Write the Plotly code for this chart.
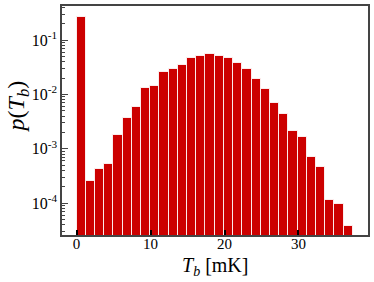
import plotly.graph_objects as go

bin_centers = [0.62, 1.87, 3.11, 4.36, 5.60, 6.85, 8.09, 9.34, 10.58, 11.83,
               13.07, 14.32, 15.56, 16.81, 18.05, 19.30, 20.54, 21.79, 23.03, 24.28,
               25.52, 26.77, 28.01, 29.26, 30.50, 31.75, 32.99, 34.24, 35.48, 36.73]
bin_width = 1.245
prob = [0.261, 2.54e-4, 4.23e-4, 5.37e-4, 1.76e-3, 3.72e-3, 5.77e-3, 0.0131, 0.0142, 0.0258,
        0.0293, 0.0352, 0.046, 0.0508, 0.0552, 0.0515, 0.0473, 0.0383, 0.0293, 0.0189,
        0.0124, 6.9e-3, 4.4e-3, 2.14e-3, 1.66e-3, 7.23e-4, 4.73e-4, 1.17e-4, 9.86e-5, 3.88e-5]
x_ticks = [0, 10, 20, 30]
y_ticks = [1e-4, 1e-3, 1e-2, 1e-1]
y_ticktext = ["10<sup>-4</sup>", "10<sup>-3</sup>", "10<sup>-2</sup>", "10<sup>-1</sup>"]

font = "Liberation Serif, DejaVu Serif, serif"

fig = go.Figure(go.Bar(
    x=bin_centers, y=prob, width=[bin_width] * len(prob),
    marker=dict(color="#cc0000", line=dict(color="rgba(255,255,255,0.85)", width=1)),
))

fig.update_layout(
    width=374, height=282,
    margin=dict(l=62, r=6, t=6, b=47, autoexpand=False),
    plot_bgcolor="white", paper_bgcolor="white",
    showlegend=False,
    font=dict(family=font, size=15, color="black"),
    bargap=0,
    annotations=[
        dict(text="<i>T</i><sub><i>b</i></sub> [mK]", xref="paper", yref="paper",
             x=0.5, y=-0.137, xanchor="center", yanchor="middle", showarrow=False,
             font=dict(size=20)),
        dict(text="<i>p</i>(<i>T</i><sub><i>b</i></sub>)", xref="paper", yref="paper",
             x=-0.145, y=0.56, xanchor="center", yanchor="middle", showarrow=False,
             textangle=-90, font=dict(size=24)),
    ],
)
fig.update_xaxes(
    range=[-1.97, 39.4], tickvals=x_ticks, ticks="inside", ticklen=5, tickwidth=1.5,
    tickcolor="black", showline=True, linecolor="#444", linewidth=1.5, mirror=True,
    showgrid=False, zeroline=False, tickfont=dict(size=15), automargin=False,
    ticklabelstandoff=-6,
)
fig.update_yaxes(
    type="log", range=[-4.583, -0.375], tickvals=y_ticks, ticktext=y_ticktext,
    ticks="inside", ticklen=6, tickwidth=1.2, tickcolor="#444",
    minor=dict(ticks="inside", ticklen=3, tickcolor="#444", dtick="D1", showgrid=False),
    showline=True, linecolor="#444", linewidth=1.5, mirror=True,
    showgrid=False, zeroline=False, tickfont=dict(size=16), automargin=False,
)

fig.write_html("out.html", config={"displayModeBar": False},
               post_script="document.body.style.margin='0';")
